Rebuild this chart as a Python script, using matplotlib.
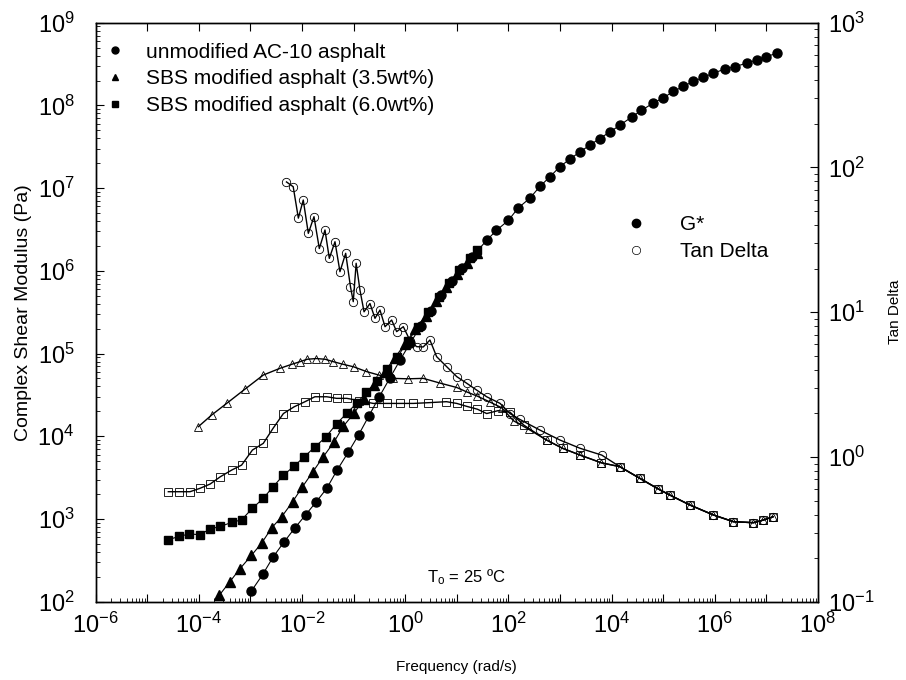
import numpy as np
import matplotlib
matplotlib.use("Agg")
import matplotlib.pyplot as plt
from matplotlib.lines import Line2D
from matplotlib.ticker import LogLocator, NullFormatter, FuncFormatter

plt.rcParams['font.family'] = ['Liberation Sans', 'DejaVu Sans']
plt.rcParams['mathtext.default'] = 'regular'

# all values as log10 numbers
# G* (Pa), upper branch where the three curves lie on top of each other
g_hi_f = [1.58, 1.77, 2.0, 2.19, 2.42, 2.61, 2.81, 3.0, 3.19, 3.39, 3.58, 3.77, 3.97, 4.16, 4.39,
          4.58, 4.81, 5.0, 5.2, 5.39, 5.58, 5.78, 5.97, 6.2, 6.39, 6.62, 6.81, 7.0, 7.2]
g_hi = [6.37, 6.49, 6.61, 6.76, 6.88, 7.02, 7.14, 7.26, 7.35, 7.44, 7.52, 7.60, 7.68, 7.76, 7.86,
        7.94, 8.03, 8.09, 8.17, 8.23, 8.29, 8.34, 8.39, 8.44, 8.47, 8.51, 8.55, 8.59, 8.63]

# unmodified AC-10
gu_f = [-2.98, -2.76, -2.56, -2.35, -2.14, -1.93, -1.72, -1.52, -1.32, -1.10, -0.90, -0.70, -0.50,
        -0.30, -0.10, 0.10, 0.30, 0.50, 0.70, 0.90, 1.10, 1.30]
gu_g = [2.13, 2.33, 2.54, 2.72, 2.89, 3.05, 3.21, 3.37, 3.59, 3.81, 4.02, 4.25, 4.48,
        4.70, 4.92, 5.13, 5.33, 5.52, 5.71, 5.88, 6.03, 6.17]
# SBS 3.5wt%
gt_f = [-3.60, -3.40, -3.20, -2.98, -2.78, -2.59, -2.39, -2.18, -1.99, -1.79, -1.59, -1.38, -1.20,
        -0.99, -0.80, -0.60, -0.40, -0.20, 0.0, 0.2, 0.4, 0.6, 0.8, 1.0, 1.2, 1.4]
gt_g = [2.08, 2.24, 2.40, 2.56, 2.71, 2.89, 3.03, 3.21, 3.39, 3.57, 3.75, 3.93, 4.12,
        4.28, 4.45, 4.62, 4.78, 4.95, 5.12, 5.30, 5.46, 5.63, 5.80, 5.96, 6.10, 6.22]
# SBS 6.0wt%
gs_f = [-4.59, -4.38, -4.18, -3.98, -3.78, -3.58, -3.36, -3.17, -2.96, -2.75, -2.56, -2.36, -2.15,
        -1.96, -1.75, -1.54, -1.33, -1.13, -0.94, -0.75, -0.55, -0.35, -0.15, 0.05, 0.25, 0.45,
        0.65, 0.85, 1.05, 1.25, 1.4]
gs_g = [2.75, 2.79, 2.82, 2.81, 2.88, 2.91, 2.96, 2.99, 3.13, 3.25, 3.39, 3.53, 3.64,
        3.75, 3.87, 3.99, 4.15, 4.28, 4.40, 4.53, 4.67, 4.81, 4.96, 5.15, 5.32, 5.50,
        5.68, 5.85, 6.01, 6.15, 6.25]

# tan delta, shared high frequency branch
td_hi_f = [4.16, 4.55, 4.9, 5.13, 5.52, 5.97, 6.36, 6.75, 6.94, 7.13]
td_hi = [-0.067, -0.148, -0.22, -0.263, -0.332, -0.40, -0.447, -0.454, -0.436, -0.413]

tu_f = [-2.30, -2.17, -2.07, -1.975, -1.877, -1.767, -1.664, -1.554, -1.47, -1.36, -1.264, -1.153,
        -1.06, -1.006, -0.95, -0.876, -0.797, -0.682, -0.585, -0.488, -0.39, -0.262, -0.165, -0.036,
        0.10, 0.223, 0.35, 0.48, 0.61, 0.804, 1.0, 1.19, 1.386, 1.58, 1.84, 2.03, 2.22, 2.61, 3.0,
        3.39, 3.81]
tu = [1.90, 1.867, 1.65, 1.775, 1.545, 1.66, 1.44, 1.568, 1.372, 1.487, 1.28, 1.407,
      1.176, 1.073, 1.338, 1.153, 1.003, 1.06, 0.958, 1.015, 0.90, 0.946, 0.866, 0.90,
      0.80, 0.762, 0.76, 0.808, 0.693, 0.624, 0.555, 0.51, 0.462, 0.416, 0.37, 0.30, 0.26, 0.186, 0.117,
      0.06, 0.013]

tt_f = [-4.01, -3.75, -3.46, -3.1, -2.75, -2.43, -2.2, -2.04, -1.9, -1.72, -1.55, -1.39, -1.2, -1.0,
        -0.75, -0.5, -0.23, 0.05, 0.35, 0.68, 1.0, 1.19, 1.4, 1.64, 1.87, 2.10, 2.4, 2.74, 3.05,
        3.39, 3.8]
tt = [0.209, 0.29, 0.37, 0.47, 0.566, 0.612, 0.64, 0.658, 0.675, 0.68, 0.675, 0.658, 0.64, 0.623,
      0.59, 0.565, 0.543, 0.54, 0.543, 0.51, 0.48, 0.45, 0.42, 0.38, 0.34, 0.25, 0.19, 0.117, 0.06,
      0.013, -0.04]

ts_f = [-4.59, -4.38, -4.17, -3.98, -3.78, -3.58, -3.36, -3.17, -2.96, -2.75, -2.56, -2.36, -2.15,
        -1.94, -1.75, -1.52, -1.33, -1.13, -0.9, -0.62, -0.35, -0.1, 0.16, 0.45, 0.8, 1.0, 1.19,
        1.4, 1.58, 1.8, 2.03, 2.3, 2.74, 3.05, 3.39, 3.8]
ts = [-0.24, -0.24, -0.24, -0.217, -0.187, -0.136, -0.09, -0.056, 0.048, 0.094, 0.198, 0.30, 0.347,
      0.382, 0.416, 0.416, 0.405, 0.405, 0.39, 0.37, 0.37, 0.37, 0.37, 0.375, 0.382, 0.37, 0.35,
      0.33, 0.30, 0.32, 0.31, 0.22, 0.117, 0.06, 0.013, -0.04]

labels = ["unmodified AC-10 asphalt", "SBS modified asphalt (3.5wt%)",
          "SBS modified asphalt (6.0wt%)"]
markers = ["o", "^", "s"]


def lin(*parts):
    return 10 ** np.concatenate([np.asarray(p, dtype=float) for p in parts])


def even_decades(v, pos):
    k = int(round(np.log10(v)))
    return "$10^{%d}$" % k if k % 2 == 0 else ""


fig = plt.figure(figsize=(9.06, 6.8), dpi=100)
ax = fig.add_axes([0.1055, 0.1151, 0.7973, 0.8515])
ax2 = ax.twinx()

# tan delta (right axis)
tan_sets = [(tu_f, tu), (tt_f, tt), (ts_f, ts)]
for (f, v), m in zip(tan_sets, markers):
    ax2.plot(lin(f, td_hi_f), lin(v, td_hi), color="black", lw=1.0, marker=m, ms=6,
             mfc="none", mec="black", mew=0.6, zorder=2)

# G* (left axis) - modified ones hidden under the unmodified curve at high f
ax.plot(lin(gs_f), lin(gs_g), color="black", lw=0.8, marker="s", ms=6, zorder=3)
ax.plot(lin(gt_f), lin(gt_g), color="black", lw=0.8, marker="^", ms=6.5, zorder=3)
ax.plot(lin(gu_f, g_hi_f), lin(gu_g, g_hi), color="black", lw=0.8, marker="o", ms=6.5, zorder=3)

ax.set_zorder(ax2.get_zorder() + 1)
ax.patch.set_visible(False)

ax.set_xscale("log")
ax.set_yscale("log")
ax2.set_yscale("log")
ax.set_xlim(1e-6, 1e8)
ax.set_ylim(1e2, 1e9)
ax2.set_ylim(1e-1, 1e3)

ax.xaxis.set_major_locator(LogLocator(base=10, subs=(1.0,), numticks=30))
ax.xaxis.set_major_formatter(FuncFormatter(even_decades))
ax.xaxis.set_minor_locator(LogLocator(base=10, subs=np.arange(2, 10), numticks=30))
ax.xaxis.set_minor_formatter(NullFormatter())

ax.tick_params(which="both", direction="in", top=True, labelsize=17)
ax.tick_params(which="minor", top=False, length=3)
ax.tick_params(which="major", length=6)
ax.tick_params(axis="x", pad=8)
ax.tick_params(axis="y", pad=15)
ax2.tick_params(which="both", direction="in", labelsize=17, pad=7)
ax2.tick_params(which="minor", length=3)
ax2.tick_params(which="major", length=6)

for a in (ax, ax2):
    for s in a.spines.values():
        s.set_linewidth(1.0)

ax.set_xlabel("Frequency (rad/s)", fontsize=11, labelpad=16)
ax.set_ylabel("Complex Shear Modulus (Pa)", fontsize=14, labelpad=4)
ax2.set_ylabel("Tan Delta", fontsize=11, labelpad=10)

ax.text(0.459, 0.043, "T$_o$ = 25 ºC", transform=ax.transAxes, fontsize=12,
        ha="left", va="center")

handles = [Line2D([], [], ls="none", marker=m, color="black", ms=5) for m in markers]
leg1 = ax.legend(handles, labels, loc="upper left", bbox_to_anchor=(-0.011, 0.991), frameon=False,
                 fontsize=15, handlelength=1.2, handletextpad=0.9, labelspacing=0.37,
                 borderaxespad=0.3)
ax.add_artist(leg1)

h2 = [Line2D([], [], ls="none", marker="o", color="black", ms=6),
      Line2D([], [], ls="none", marker="o", mfc="none", mec="black", mew=0.5, ms=6)]
ax.legend(h2, ["G*", "Tan Delta"], loc="upper left", bbox_to_anchor=(0.705, 0.70),
          frameon=False, fontsize=15, handlelength=1.2, handletextpad=1.5, labelspacing=0.37)

fig.savefig("out.png", dpi=100)
